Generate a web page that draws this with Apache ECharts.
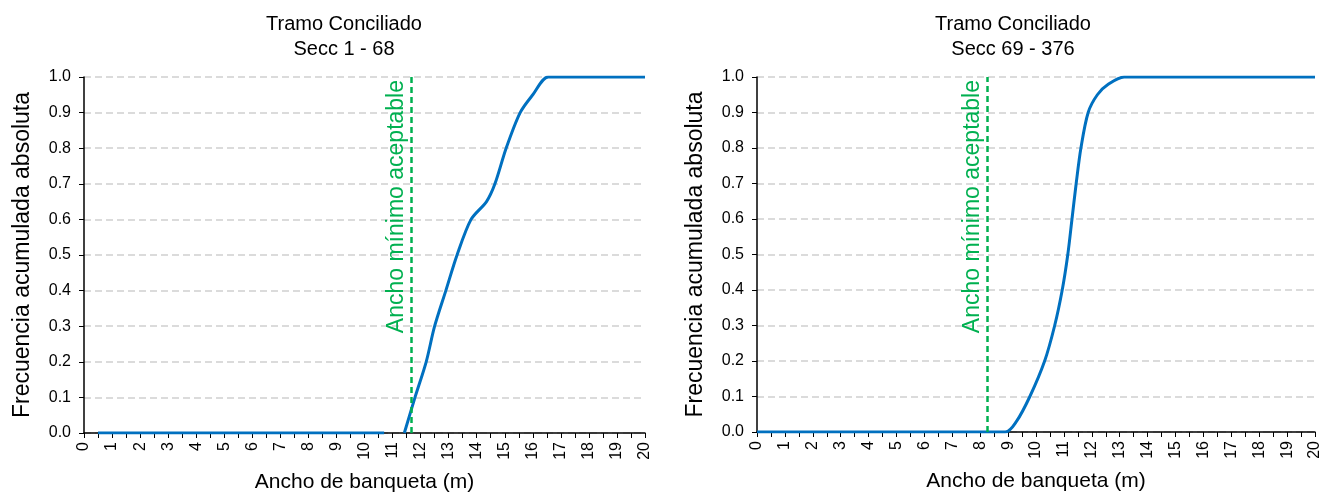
<!DOCTYPE html>
<html><head><meta charset="utf-8">
<script src="https://cdn.jsdelivr.net/npm/echarts@6/dist/echarts.min.js"></script>
<style>html,body{margin:0;padding:0;background:#fff}#c{width:1323px;height:498px}</style>
</head><body><div id="c"></div>
<script>
var titles = ["Tramo Conciliado\nSecc 1 - 68", "Tramo Conciliado\nSecc 69 - 376"];
var xName = "Ancho de banqueta (m)";
var yName = "Frecuencia acumulada absoluta";
var markText = "Ancho mínimo aceptable";
var leftX = [0.5, 10.7, 11.05, 11.42, 11.8, 12.2, 12.5, 12.9, 13.3, 13.8, 14.35, 14.65, 15.05, 15.55, 16, 16.55, 17.3, 20];
var leftY = [0, 0, null, 0, 0.1, 0.2, 0.3, 0.4, 0.5, 0.6, 0.65, 0.7, 0.8, 0.9, 0.95, 1, 1, 1];
var rightX = [0, 8.9, 9.3, 9.78, 10.31, 10.67, 10.94, 11.14, 11.29, 11.44, 11.61, 11.87, 12.2, 12.6, 13.16, 20];
var rightY = [0, 0, 0.03, 0.1, 0.2, 0.3, 0.4, 0.5, 0.6, 0.7, 0.8, 0.9, 0.95, 0.98, 1, 1];
var leftMin = 11.65;
var rightMin = 8.25;

var FONT = "Liberation Sans, Arial, sans-serif";
function pairs(xs, ys){ return xs.map(function(x,i){ return [x, ys[i] === null ? '-' : ys[i]]; }); }

function xAxis(i){
  return {
    type:'value', gridIndex:i, min:0, max:20, interval:1,
    name:xName, nameLocation:'middle', nameGap:39,
    nameTextStyle:{fontFamily:FONT, fontSize:21, color:'#000'},
    axisLine:{onZero:false, lineStyle:{color:'#000', width:1.5}},
    axisTick:{show:true, length:5, lineStyle:{color:'#000', width:1}},
    minorTick:{show:true, splitNumber:2, length:5, lineStyle:{color:'#000', width:1}},
    axisLabel:{rotate:90, fontFamily:FONT, fontSize:16, color:'#000', margin:9},
    splitLine:{show:false}
  };
}
function yAxis(i){
  return {
    type:'value', gridIndex:i, min:0, max:1, interval:0.1,
    name:yName, nameLocation:'middle', nameGap:50,
    nameTextStyle:{fontFamily:FONT, fontSize:23, color:'#000'},
    axisLine:{show:true, lineStyle:{color:'#000', width:1.5}},
    axisTick:{show:true, length:5, lineStyle:{color:'#000'}},
    axisLabel:{fontFamily:FONT, fontSize:16, color:'#000', margin:13, formatter:function(v){return v.toFixed(1);}},
    splitLine:{show:true, lineStyle:{color:'#d0d0d0', width:1.5, type:[7,4]}}
  };
}
function series(i, xs, ys, mx){
  return {
    type:'line', xAxisIndex:i, yAxisIndex:i, data:pairs(xs, ys),
    smooth:0.3, showSymbol:false, connectNulls:false,
    lineStyle:{color:'#0070C0', width:3}, z:3,
    markLine:{
      silent:true, symbol:['none','none'],
      lineStyle:{color:'#00B050', width:2.5, type:[6,4]},
      label:{show:true, position:'insideEndTop', formatter:markText, color:'#00B050',
             fontFamily:FONT, fontSize:23, distance:3},
      data:[{xAxis:mx}]
    }
  };
}
var chart = echarts.init(document.getElementById('c'));
chart.setOption({
  animation:false,
  title:[
    {text:titles[0], left:339, top:7, textAlign:'center', textStyle:{fontFamily:FONT, fontSize:20, fontWeight:'normal', color:'#000', lineHeight:25}},
    {text:titles[1], left:1008, top:7, textAlign:'center', textStyle:{fontFamily:FONT, fontSize:20, fontWeight:'normal', color:'#000', lineHeight:25}}
  ],
  grid:[
    {left:84, top:77, width:561, height:356},
    {left:757, top:77, width:562, height:355}
  ],
  xAxis:[xAxis(0), xAxis(1)],
  yAxis:[yAxis(0), yAxis(1)],
  series:[series(0, leftX, leftY, leftMin), series(1, rightX, rightY, rightMin)]
});
</script></body></html>
